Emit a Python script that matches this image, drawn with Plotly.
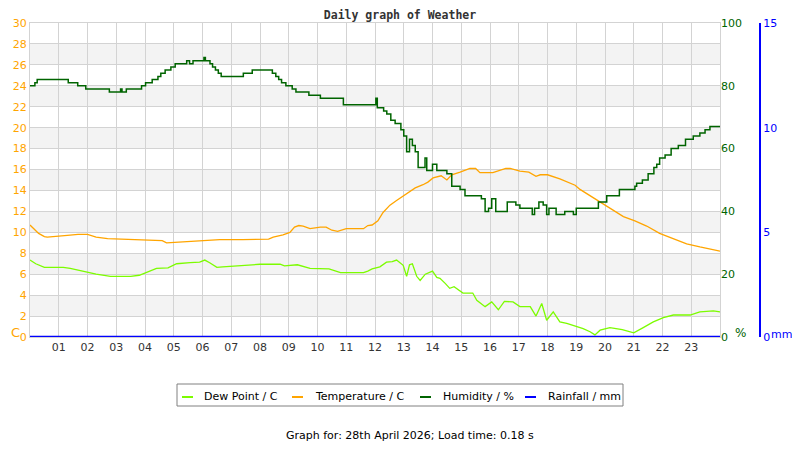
import plotly.graph_objs as go

# hours since midnight and readings
hum_hours = [0.00, 0.17, 0.25, 1.33, 1.66, 1.94, 2.76, 3.15, 3.20, 3.35, 3.88, 4.02, 4.25, 4.45,
             4.55, 4.70, 4.90, 5.05, 5.45, 5.55, 5.67, 6.05, 6.10, 6.26, 6.35, 6.45, 6.55, 6.65,
             7.42, 7.73, 8.43, 8.55, 8.65, 8.75, 8.90, 9.12, 9.25, 9.40, 9.70, 10.10, 10.50, 10.90,
             11.20, 11.50, 11.90, 12.03, 12.08, 12.30, 12.41, 12.55, 12.70, 12.90, 13.00, 13.10,
             13.20, 13.30, 13.40, 13.50, 13.65, 13.74, 13.80, 14.00, 14.15, 14.37, 14.50, 14.67,
             14.80, 14.96, 15.13, 15.40, 15.65, 15.70, 15.83, 15.95, 16.06, 16.20, 16.60, 16.90,
             17.04, 17.40, 17.47, 17.55, 17.70, 17.85, 17.97, 18.05, 18.30, 18.60, 18.90, 19.00,
             19.70, 19.77, 19.88, 20.06, 20.50, 21.04, 21.10, 21.30, 21.50, 21.70, 21.80, 21.90,
             22.09, 22.30, 22.55, 22.80, 23.07, 23.30, 23.48, 23.65, 24.00]
humidity = [80, 81, 82, 81, 80, 79, 78, 79, 78, 79, 80, 81, 82, 83,
            84, 85, 86, 87, 88, 87, 88, 89, 88, 87, 86, 85, 84, 83,
            84, 85, 84, 83, 82, 81, 80, 79, 78, 78, 77, 76, 76, 74,
            74, 74, 74, 76, 73, 72, 71, 69, 68, 66, 64, 59,
            63, 61, 59, 54, 54, 57, 53, 55, 53, 53, 52, 48,
            48, 47, 45, 45, 45, 44, 40, 41, 44, 40, 43, 42,
            41, 41, 39, 41, 43, 42, 39, 41, 39, 40, 39, 41,
            41, 43, 43, 45, 47, 48, 49, 50, 52, 54, 55, 57,
            58, 60, 61, 63, 64, 65, 66, 67, 67]

temp_hours = [0.00, 0.17, 0.30, 0.50, 0.60, 1.30, 1.67, 2.00, 2.30, 2.70, 3.80, 4.60, 4.75, 5.45,
              6.60, 7.40, 8.30, 8.46, 8.80, 9.04, 9.20, 9.35, 9.50, 9.74, 10.10, 10.30, 10.50,
              10.70, 11.00, 11.60, 11.75, 11.90, 12.10, 12.28, 12.52, 12.75, 13.10, 13.40, 13.67,
              13.84, 14.02, 14.30, 14.50, 14.67, 14.96, 15.30, 15.50, 15.65, 16.10, 16.35, 16.55,
              16.70, 17.04, 17.35, 17.60, 17.75, 18.00, 18.43, 18.67, 18.96, 19.13, 19.36, 19.65,
              19.94, 20.29, 20.64, 21.04, 21.45, 21.90, 22.38, 22.84, 23.30, 23.76, 24.00]
temperature = [10.7, 10.2, 9.9, 9.6, 9.55, 9.7, 9.8, 9.8, 9.55, 9.4, 9.3, 9.2, 9.0, 9.1,
               9.3, 9.3, 9.35, 9.55, 9.75, 10.0, 10.5, 10.65, 10.6, 10.35, 10.5, 10.5, 10.2,
               10.1, 10.35, 10.35, 10.65, 10.7, 11.1, 11.9, 12.6, 13.05, 13.7, 14.25, 14.55,
               14.8, 15.2, 15.4, 15.0, 15.5, 15.75, 16.1, 16.1, 15.7, 15.7, 15.9, 16.1,
               16.1, 15.85, 15.75, 15.35, 15.5, 15.5, 15.1, 14.8, 14.5, 14.1, 13.7, 13.2,
               12.7, 12.1, 11.5, 11.1, 10.6, 9.9, 9.4, 8.9, 8.6, 8.35, 8.2]

dew_hours = [0.00, 0.20, 0.50, 1.16, 1.40, 1.80, 2.30, 2.80, 3.50, 3.80, 4.06, 4.40, 4.80, 5.10,
             5.57, 5.90, 6.08, 6.25, 6.50, 6.70, 8.00, 8.70, 8.85, 9.30, 9.74, 10.40, 10.80,
             11.60, 11.75, 11.90, 12.17, 12.40, 12.60, 12.75, 12.98, 13.10, 13.20, 13.30, 13.45,
             13.57, 13.75, 14.00, 14.15, 14.26, 14.45, 14.60, 14.75, 15.06, 15.40, 15.54, 15.83,
             16.06, 16.29, 16.50, 16.80, 17.04, 17.40, 17.60, 17.80, 17.97, 18.20, 18.43, 18.67,
             19.00, 19.24, 19.48, 19.65, 19.83, 20.17, 20.60, 21.00, 21.33, 21.68, 22.03, 22.38,
             22.96, 23.30, 23.77, 24.00]
dew_point = [7.35, 7.0, 6.65, 6.65, 6.55, 6.3, 6.0, 5.8, 5.8, 5.9, 6.2, 6.55, 6.6, 7.0,
             7.1, 7.15, 7.35, 7.1, 6.65, 6.7, 6.95, 6.95, 6.8, 6.9, 6.55, 6.5, 6.15,
             6.15, 6.3, 6.5, 6.7, 7.15, 7.2, 7.35, 6.85, 5.8, 6.9, 7.0, 5.8,
             5.4, 6.0, 6.3, 5.7, 5.6, 5.1, 4.65, 4.8, 4.2, 4.2, 3.5, 2.9,
             3.35, 2.6, 3.4, 3.35, 2.9, 2.9, 2.0, 3.2, 1.6, 2.4, 1.45, 1.3,
             1.0, 0.8, 0.5, 0.2, 0.65, 0.9, 0.7, 0.4, 0.9, 1.45, 1.85, 2.1,
             2.1, 2.4, 2.5, 2.4]

rain_hours = [0.0, 24.0]
rainfall = [0.0, 0.0]

hour_ticks = list(range(1, 24))
hour_labels = ['%02d' % h for h in hour_ticks]
temp_ticks = list(range(0, 31, 2))
hum_ticks = [0, 20, 40, 60, 80, 100]
rain_ticks = [0, 5, 10, 15]

series_names = ['Dew Point / C', 'Temperature / C', 'Humidity / %', 'Rainfall / mm']
series_colors = ['#7CFC00', '#FFA500', '#006400', '#0000FF']

FONT = 'DejaVu Sans'
GRID = '#d3d3d3'
# the page body keeps its default 8px margin, so the figure is kept inside the window
OFF = 8
W, H = 800 - 2 * OFF, 450 - 2 * OFF


def px(x, y):
    # window pixel position -> paper fraction
    return (x - OFF) / W, 1 - (y - OFF) / H


trace_dew = go.Scatter(x=dew_hours, y=dew_point, mode='lines', name=series_names[0],
                       line=dict(color=series_colors[0], width=1.3))
trace_temp = go.Scatter(x=temp_hours, y=temperature, mode='lines', name=series_names[1],
                        line=dict(color=series_colors[1], width=1.3))
trace_hum = go.Scatter(x=hum_hours, y=humidity, mode='lines', name=series_names[2], yaxis='y2',
                       line=dict(color=series_colors[2], width=1.5, shape='hv'))
trace_rain = go.Scatter(x=rain_hours, y=rainfall, mode='lines', name=series_names[3], yaxis='y3',
                        line=dict(color=series_colors[3], width=2.5))

fig = go.Figure(data=[trace_dew, trace_temp, trace_hum, trace_rain])

# alternating grey bands behind the plot
for lo in range(2, 30, 4):
    fig.add_shape(type='rect', xref='x domain', yref='y', x0=0, x1=1, y0=lo, y1=lo + 2,
                  fillcolor='#f3f3f3', line_width=0, layer='below')

fig.update_layout(
    width=W, height=H,
    margin=dict(l=0, r=0, t=0, b=0, autoexpand=False),
    paper_bgcolor='white', plot_bgcolor='white',
    font=dict(family=FONT, size=11, color='#333333'),
    title=dict(text='Daily graph of Weather', x=px(400, 0)[0], xanchor='center', y=px(0, 14.5)[1],
               yanchor='middle',
               font=dict(family='DejaVu Sans Mono', size=11.5, color='#333333', weight='bold')),
    xaxis=dict(domain=[px(30, 0)[0], px(720, 0)[0]], range=[0, 24], tickvals=hour_ticks,
               ticktext=hour_labels, showgrid=True, gridcolor=GRID, gridwidth=1, zeroline=False,
               showline=True, linecolor=GRID, mirror=True, ticks='', automargin=False,
               tickfont=dict(size=11, color='#333333')),
    yaxis=dict(domain=[px(0, 337)[1], px(0, 23)[1]], range=[0, 30], tickvals=temp_ticks,
               showgrid=True, gridcolor=GRID, zeroline=False, showline=True, linecolor=GRID,
               mirror=True, ticks='', automargin=False, tickfont=dict(size=11, color='#FFA500')),
    yaxis2=dict(overlaying='y', side='right', anchor='x', range=[0, 100], tickvals=hum_ticks,
                showgrid=False, zeroline=False, ticks='', automargin=False,
                tickfont=dict(size=11, color='#006400')),
    yaxis3=dict(overlaying='y', side='right', anchor='free', position=px(760, 0)[0], range=[0, 15],
                tickvals=rain_ticks, showgrid=False, zeroline=False, showline=True,
                linecolor='#0000FF', linewidth=2, ticks='', automargin=False,
                tickfont=dict(size=11, color='#0000FF')),
    showlegend=False,
)

# legend box drawn by hand to keep the short swatches of the original
x0, y0 = px(177, 384)
x1, y1 = px(623, 406)
fig.add_shape(type='rect', xref='paper', yref='paper', x0=x0, y0=y0, x1=x1, y1=y1,
              line=dict(color='#808080', width=1), fillcolor='white')
swatch_left = [182, 292, 420, 525]
text_left = [202, 313, 441, 546]
for name, color, sx, tx in zip(series_names, series_colors, swatch_left, text_left):
    a, b = px(sx, 397)
    c, _ = px(sx + 11, 397)
    fig.add_shape(type='line', xref='paper', yref='paper', x0=a, x1=c, y0=b, y1=b,
                  line=dict(color=color, width=2))
    tx_, ty_ = px(tx, 396)
    fig.add_annotation(text=name, x=tx_, y=ty_, xref='paper', yref='paper', showarrow=False,
                       xanchor='left', yanchor='middle', font=dict(size=11, color='#000000'))

for text, x, y, size, color, anchor in [
        ('C', 9, 332, 13, '#FFA500', 'left'),
        ('%', 740, 333, 12, '#006400', 'center'),
        ('mm', 781.5, 334, 11, '#0000FF', 'center'),
        ('Graph for: 28th April 2026; Load time: 0.18 s', 410, 435, 11, '#000000', 'center')]:
    ax, ay = px(x, y)
    fig.add_annotation(text=text, x=ax, y=ay, xref='paper', yref='paper', showarrow=False,
                       xanchor=anchor, yanchor='middle', font=dict(size=size, color=color))

fig.write_html('out.html')
